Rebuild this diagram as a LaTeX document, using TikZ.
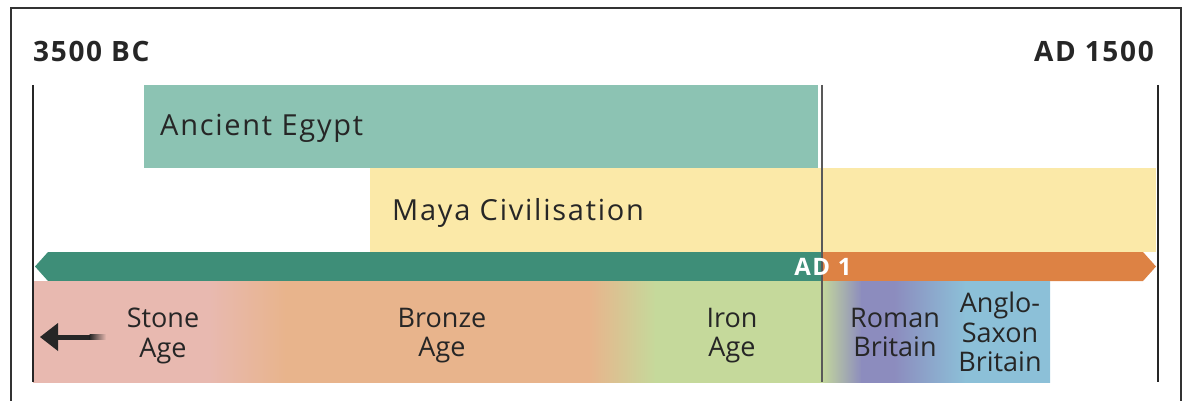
\documentclass[tikz,border=0pt]{standalone}
\usepackage{fontspec}
\setmainfont{Open Sans}
\newfontfamily\widefont[LetterSpace=6]{Open Sans}
\usepackage{xcolor}
\usetikzlibrary{arrows.meta}

\definecolor{egypt}{HTML}{8CC3B3}
\definecolor{maya}{HTML}{FBE9A8}
\definecolor{bcgreen}{HTML}{3E8E78}
\definecolor{adorange}{HTML}{DD8244}
\definecolor{stone}{HTML}{E8B9B0}
\definecolor{bronze}{HTML}{E8B48C}
\definecolor{iron}{HTML}{C5D99B}
\definecolor{roman}{HTML}{8C8CBE}
\definecolor{saxon}{HTML}{8CC0D8}
\definecolor{framegray}{HTML}{333333}

\tikzset{
	datelabel/.style={font=\widefont\fontsize{28}{30}\selectfont\bfseries, text=black!85, inner sep=0pt, anchor=base},
	civlabel/.style={font=\widefont\fontsize{29}{30}\selectfont, text=black!85, inner sep=0pt, anchor=base west},
	agelabel/.style={font=\fontsize{27}{29.5}\selectfont, text=black!85, inner sep=0pt, anchor=north, align=center},
}

\begin{document}
\begin{tikzpicture}[x=1pt,y=-1pt]
	\useasboundingbox (0,0) rectangle (1187,401);
	% Outer frame
	\draw[framegray, line width=2pt] (11,401) |- (1181,8) -- (1181,401);
	
	% Dates at the ends
	\node[datelabel, anchor=base west] (start) at (33,62) {3500 BC};
	\node[datelabel, anchor=base east] (end) at (1154,62) {AD 1500};
	
	% Civilisations
	\fill[egypt] (144,85) rectangle (818,168);
	\fill[maya] (370,168) rectangle (1156,252);
	\node[civlabel] (egypt) at (160,136) {Ancient Egypt};
	\node[civlabel] (maya) at (392,220) {Maya Civilisation};
	
	% Time arrow
	\fill[bcgreen] (35,266.5) -- (48,252) -- (822,252) -- (822,281) -- (48,281) -- cycle;
	\fill[adorange] (822,252) -- (1143,252) -- (1156,266.5) -- (1143,281) -- (822,281) -- cycle;
	
	% Ages of Britain
	\foreach \xa/\xb/\ca/\cb in {33/210/stone/stone, 209/286/stone/bronze, 285/590/bronze/bronze,
		589/656/bronze/iron, 655/822/iron/iron, 821/862/iron/roman, 861/895/roman/roman,
		894/966/roman/saxon, 965/1050/saxon/saxon}
		\shade[left color=\ca, right color=\cb] (\xa,281) rectangle (\xb,382);
	
	% Arrow into the past
	\fill[black!85] (40,337) -- (58,323) -- (58,351) -- cycle;
	\fill[black!85] (57,334.5) rectangle (90,339.5);
	\shade[left color=black!85, right color=stone] (89.5,334.5) rectangle (106,339.5);
	
	% Marker lines
	\draw[black!85, line width=2.5pt] (33,85) -- (33,382);
	\draw[black!85, line width=2.5pt] (1158,85) -- (1158,382);
	\draw[black!65, line width=1.5pt] (822,85) -- (822,382);
	
	\node[datelabel, font=\widefont\fontsize{24}{26}\selectfont\bfseries, text=white] (ad) at (823,275) {AD 1};
	
	\node[agelabel] (stoneage) at (163,308) {Stone\\Age};
	\node[agelabel] (bronzeage) at (442,308) {Bronze\\Age};
	\node[agelabel] (ironage) at (732,308) {Iron\\Age};
	\node[agelabel] (romanbritain) at (895,308) {Roman\\Britain};
	\node[agelabel] (saxonbritain) at (1000,292) {Anglo-\\Saxon\\Britain};
\end{tikzpicture}
\end{document}
